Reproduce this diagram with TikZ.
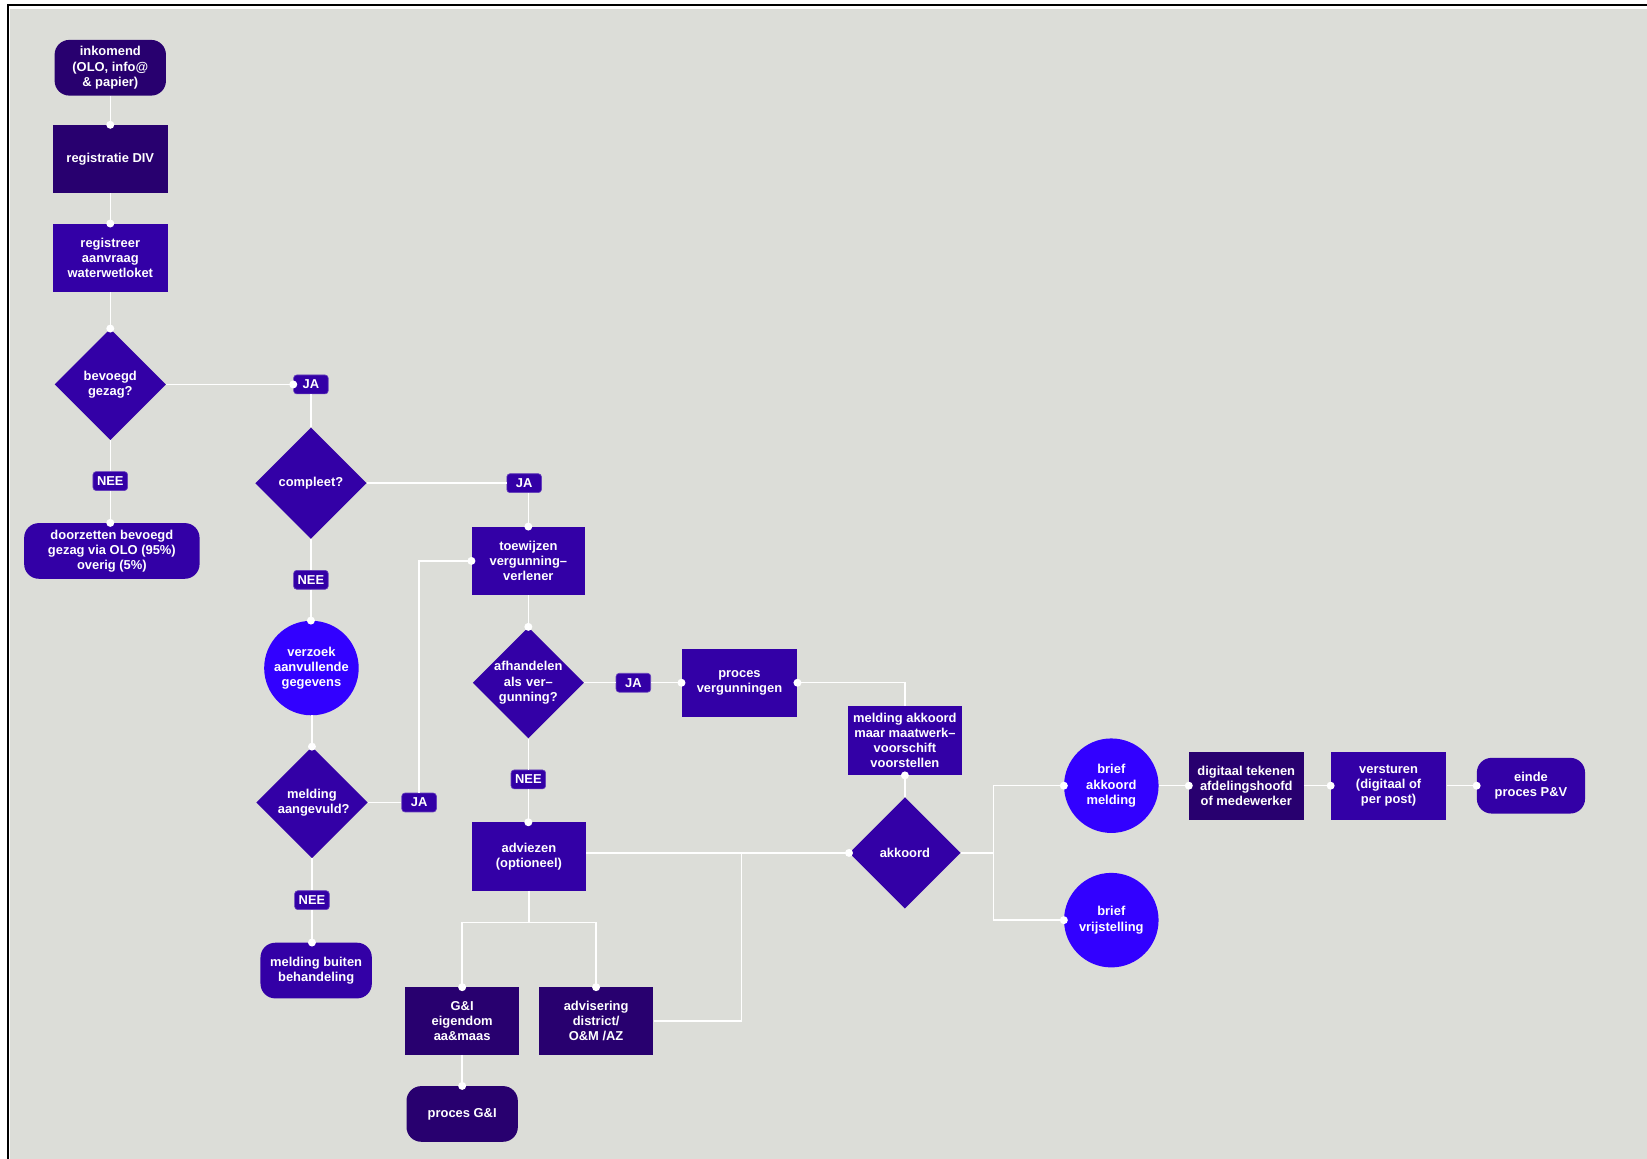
\documentclass[tikz,border=0pt]{standalone}
\usepackage{fontspec}
\setmainfont{Liberation Sans}
\usetikzlibrary{shapes.geometric}
\definecolor{bg}{HTML}{DCDDD8}
\definecolor{dk}{HTML}{28006F}
\definecolor{pu}{HTML}{3300A6}
\definecolor{bl}{HTML}{3200FF}
\tikzset{
 base/.style={text=white, font=\bfseries\fontsize{12.3}{14.4}\selectfont, align=center, inner sep=0pt},
 box/.style={base, fill=pu, minimum width=110pt, minimum height=65pt},
 dbox/.style={box, fill=dk},
 term/.style={base, fill=pu, rounded corners=14pt, minimum width=106pt, minimum height=53pt},
 dterm/.style={term, fill=dk},
 dec/.style={base, diamond, aspect=1, fill=pu, minimum size=106pt, text width=65pt},
 circ/.style={base, circle, fill=bl, minimum size=90pt},
 lab/.style={base, fill=pu, draw=pu!75!white, line width=0.6pt, rounded corners=3pt, minimum width=33pt, minimum height=18pt},
 conn/.style={draw=white, line width=1.4pt},
}
\begin{document}
\begin{tikzpicture}[x=1pt,y=-1pt]
\useasboundingbox (0,0) rectangle (1568,1103);
\fill[white] (0,0) rectangle (1568,1103);
\fill[bg] (9.5,8.5) rectangle (1568,1103);
\draw[black, line width=1.6pt] (7.6,1103) -- (7.6,4.8) -- (1568,4.8);

% nodes
\node[dterm] (in) at (105,64.5) {inkomend\\(OLO, info@\\\& papier)};
\node[dbox] (reg) at (105,151.5) {registratie DIV};
\node[box] (rgw) at (105,245.5) {registreer\\aanvraag\\waterwetloket};
\node[dec] (bev) at (105,366) {bevoegd\\gezag?};
\node[lab] (ja1) at (296,366) {JA};
\node[lab] (nee1) at (105,458) {NEE};
\node[term, minimum width=167pt] (door) at (106.5,524.5) {doorzetten bevoegd\\gezag via OLO (95\%)\\overig (5\%)};
\node[dec] (comp) at (296,460) {compleet?};
\node[lab] (ja2) at (499,460) {JA};
\node[lab] (nee2) at (296,552) {NEE};
\node[box, minimum width=108pt] (toe) at (503,534) {toewijzen\\vergunning--\\verlener};
\node[circ] (verz) at (296.5,636) {verzoek\\aanvullende\\gegevens};
\node[dec] (mel) at (297,764) {melding\\aangevuld?};
\node[lab] (ja3) at (399,764) {JA};
\node[lab] (nee3) at (297,857) {NEE};
\node[term] (buiten) at (301,924) {melding buiten\\behandeling};
\node[dec] (afh) at (503,650) {afhandelen\\als ver--\\gunning?};
\node[lab] (ja4) at (603,650) {JA};
\node[box] (pv) at (704,650) {proces\\vergunningen};
\node[lab] (nee4) at (503,742) {NEE};
\node[box, minimum width=109pt] (adv) at (503.5,815.5) {adviezen\\(optioneel)};
\node[dbox, minimum width=109pt, minimum height=64pt] (gi) at (440,972) {G\&I\\eigendom\\aa\&maas};
\node[dbox, minimum width=109pt, minimum height=64pt] (advd) at (567.5,972) {advisering\\district/\\O\&M /AZ};
\node[dterm] (pgi) at (440,1060.5) {proces G\&I};
\node[box, minimum width=109pt, minimum height=66pt] (mak) at (861.5,705) {melding akkoord\\maar maatwerk--\\voorschift\\voorstellen};
\node[dec] (akk) at (861.5,812) {akkoord};
\node[circ] (bam) at (1058,748) {brief\\akkoord\\melding};
\node[circ] (bvr) at (1058,876) {brief\\vrijstelling};
\node[dbox, minimum width=109pt] (dig) at (1186.5,748) {digitaal tekenen\\afdelingshoofd\\of medewerker};
\node[box] (vers) at (1322,748) {versturen\\(digitaal of\\per post)};
\node[term, minimum width=103pt] (einde) at (1457.5,748) {einde\\proces P\&V};

\coordinate (j1) at (706,812);
\coordinate (split) at (503.5,878);
\coordinate (br) at (946,812);

% connectors
\draw[conn] (in.south) -- (reg.north);
\draw[conn] (reg.south) -- (rgw.north);
\draw[conn] (rgw.south) -- (bev.north);
\draw[conn] (bev.east) -- (ja1.west);
\draw[conn] (ja1.south) -- (comp.north);
\draw[conn] (bev.south) -- (nee1.north);
\draw[conn] (nee1.south) -- (nee1.south |- door.north);
\draw[conn] (comp.east) -- (ja2.west);
\draw[conn] (toe.north |- ja2.south) -- (toe.north);
\draw[conn] (comp.south) -- (nee2.north);
\draw[conn] (nee2.south) -- (nee2.south |- verz.north);
\draw[conn] (verz.south) -- (verz.south -| mel.north) -- (mel.north);
\draw[conn] (mel.east) -- (ja3.west);
\draw[conn] (ja3.north) |- (toe.west);
\draw[conn] (mel.south) -- (nee3.north);
\draw[conn] (nee3.south) -- (nee3.south |- buiten.north);
\draw[conn] (toe.south) -- (afh.north);
\draw[conn] (afh.east) -- (ja4.west);
\draw[conn] (ja4.east) -- (pv.west);
\draw[conn] (pv.east) -| (mak.north);
\draw[conn] (mak.south) -- (akk.north);
\draw[conn] (afh.south) -- (nee4.north);
\draw[conn] (nee4.south) -- (nee4.south |- adv.north);
\draw[conn] (adv.east |- akk.west) -- (akk.west);
\draw[conn] (adv.south) -- (split);
\draw[conn] (gi.north) |- (advd.north |- split) -- (advd.north);
\draw[conn] (advd.east) -| (j1);
\draw[conn] (gi.south) -- (pgi.north);
\draw[conn] (akk.east) -- (br);
\draw[conn] (bam.west) -| (br) |- (bvr.west);
\draw[conn] (bam.east) -- (dig.west);
\draw[conn] (dig.east) -- (vers.west);
\draw[conn] (vers.east) -- (einde.west);

% dots
\foreach \p in {reg.north, rgw.north, bev.north, ja1.west, toe.north,
  mel.north, toe.west, afh.north, pv.west, pv.east, mak.south,
  akk.west, gi.north, advd.north, pgi.north, bam.west, bvr.west,
  dig.west, vers.west, einde.west}
  \fill[white] (\p) circle (3.8pt);
\fill[white] (nee1.south |- door.north) circle (3.8pt);
\fill[white] (nee2.south |- verz.north) circle (3.8pt);
\fill[white] (nee3.south |- buiten.north) circle (3.8pt);
\fill[white] (nee4.south |- adv.north) circle (3.8pt);
\end{tikzpicture}
\end{document}
